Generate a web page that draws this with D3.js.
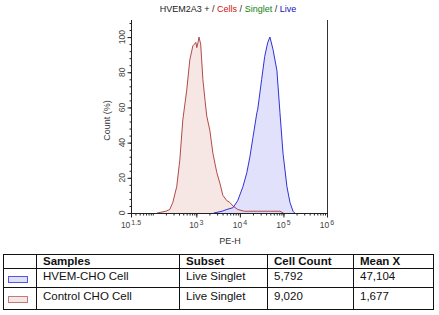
<!DOCTYPE html>
<html>
<head>
<meta charset="utf-8">
<script src="https://cdn.jsdelivr.net/npm/d3@7"></script>
<style>
  body { margin: 0; background: #fff; }
  svg { display: block; font-family: "Liberation Sans", Arial, sans-serif; }
</style>
</head>
<body>
<script>
// histogram data: x given as log10(PE-H), y as Count (%)
const redLog = [2.10, 2.30, 2.39, 2.46, 2.55, 2.62, 2.69, 2.78, 2.85, 2.92, 2.96, 2.99, 3.01, 3.04, 3.06, 3.10, 3.15, 3.20, 3.24, 3.31, 3.38, 3.47, 3.54, 3.61, 3.70, 3.77, 3.84, 3.95, 4.10, 4.40, 4.70, 4.92, 5.00];
const redCount = [0, 1, 2, 6, 15, 30, 53, 70, 87, 95, 96, 97, 94, 97, 100, 96, 76, 64, 55, 47, 34, 23, 17, 10, 7, 6, 4, 2, 1, 1, 1, 1, 0];
const blueLog = [3.40, 3.59, 3.70, 3.84, 3.95, 4.07, 4.16, 4.23, 4.30, 4.39, 4.41, 4.50, 4.57, 4.64, 4.69, 4.76, 4.85, 4.92, 4.99, 5.08, 5.15, 5.22, 5.26];
const blueCount = [0, 1, 2, 3, 7, 15, 23, 32, 43, 57, 59, 76, 89, 97, 100, 93, 81, 57, 34, 15, 6, 1, 0];

const xTickExp = [1.5, 3, 4, 5, 6];
const yTicks = [0, 20, 40, 60, 80, 100];

const tableHead = ["Samples", "Subset", "Cell Count", "Mean X"];
const samples = ["HVEM-CHO Cell", "Control CHO Cell"];
const subsets = ["Live Singlet", "Live Singlet"];
const cellCounts = ["5,792", "9,020"];
const meanX = ["47,104", "1,677"];

const W = 439, H = 315;
const svg = d3.select("body").append("svg").attr("width", W).attr("height", H);
svg.append("rect").attr("width", W).attr("height", H).attr("fill", "#fff");

// plot area
const pl = 131, pr = 327, pt = 20, pb = 213;
const x = d3.scaleLog().domain([Math.pow(10, 1.5), 1e6]).range([pl, pr]);
const y = d3.scaleLinear().domain([0, 109.7]).range([pb, pt]);

// title
const title = svg.append("text").attr("x", 228).attr("y", 12)
  .attr("text-anchor", "middle").attr("font-size", 9);
[["HVEM2A3 + / ", "#222"], ["Cells", "#d01010"], [" / ", "#222"], ["Singlet", "#108010"],
 [" / ", "#222"], ["Live", "#1010c0"]].forEach(([t, c]) => title.append("tspan").attr("fill", c).text(t));

// histograms
const area = d3.area().x(d => x(Math.pow(10, d[0]))).y0(y(0)).y1(d => y(d[1]));
const line = d3.line().x(d => x(Math.pow(10, d[0]))).y(d => y(d[1]));
const series = [
  { pts: d3.zip(redLog, redCount), fill: "#f4e2df", stroke: "#a83838" },
  { pts: d3.zip(blueLog, blueCount), fill: "#dcdcfa", stroke: "#1c1cd0" }
];
series.forEach(s => {
  svg.append("path").datum(s.pts).attr("d", area).attr("fill", s.fill).attr("fill-opacity", 0.85);
});
series.forEach(s => {
  svg.append("path").datum(s.pts).attr("d", line).attr("fill", "none")
    .attr("stroke", s.stroke).attr("stroke-width", 0.9);
});

// right border
svg.append("line").attr("x1", pr + 0.5).attr("x2", pr + 0.5).attr("y1", pt).attr("y2", pb)
  .attr("stroke", "#333");

// y axis
const yAxis = svg.append("g").attr("transform", `translate(${pl + 0.5},0)`)
  .call(d3.axisLeft(y).tickValues(yTicks).tickSize(4).tickFormat(""));
yAxis.append("g").call(d3.axisLeft(y).tickValues(d3.range(0, 109, 4)).tickSize(2).tickFormat(""));
yAxis.selectAll("path.domain").attr("d", `M0,${pt}V${pb + 0.5}`);
yAxis.selectAll("line").attr("stroke", "#222");
yAxis.selectAll("path").attr("stroke", "#222");
yTicks.forEach(v => {
  svg.append("text").attr("transform", `translate(125,${y(v)}) rotate(-90)`)
    .attr("text-anchor", "middle").attr("font-size", 8.5).attr("fill", "#444").text(v);
});
svg.append("text").attr("transform", `translate(110,${(pt + pb) / 2 + 4}) rotate(-90)`)
  .attr("text-anchor", "middle").attr("font-size", 9).attr("fill", "#333").text("Count (%)");

// x axis
const minorX = [];
for (let e = 1; e < 6; e++) for (let m = 1; m < 10; m++) {
  const v = m * Math.pow(10, e);
  if (v > Math.pow(10, 1.5) && v < 1e6) minorX.push(v);
}
const xAxis = svg.append("g").attr("transform", `translate(0,${pb + 0.5})`)
  .call(d3.axisBottom(x).tickValues(xTickExp.map(e => Math.pow(10, e))).tickSize(4).tickFormat(""));
xAxis.append("g").call(d3.axisBottom(x).tickValues(minorX).tickSize(2).tickFormat(""));
xAxis.selectAll("path.domain").attr("d", `M${pl},0H${pr + 1}`);
xAxis.selectAll("line").attr("stroke", "#222");
xAxis.selectAll("path").attr("stroke", "#222");
xTickExp.forEach(e => {
  const t = svg.append("text").attr("x", x(Math.pow(10, e))).attr("y", 228)
    .attr("text-anchor", "middle").attr("font-size", 8.5).attr("fill", "#444");
  t.append("tspan").text("10");
  t.append("tspan").attr("dy", -3).attr("dx", 1).attr("font-size", 7).text(e);
});
svg.append("text").attr("x", 230).attr("y", 244).attr("text-anchor", "middle")
  .attr("font-size", 9).attr("fill", "#333").text("PE-H");

// table
const colX = [3, 36, 179, 267, 353, 433];
const rowY = [254, 268, 287, 309];
const tbl = svg.append("g").attr("stroke", "#111").attr("stroke-width", 1);
rowY.forEach(v => tbl.append("line").attr("x1", colX[0]).attr("x2", colX[5]).attr("y1", v + 0.5).attr("y2", v + 0.5));
colX.forEach(v => tbl.append("line").attr("x1", v + 0.5).attr("x2", v + 0.5).attr("y1", rowY[0]).attr("y2", rowY[3] + 1));

tableHead.forEach((h, i) => {
  svg.append("text").attr("x", colX[i + 1] + 7).attr("y", 265).attr("font-size", 11.5)
    .attr("font-weight", "bold").attr("fill", "#111").text(h);
});
const swatch = [{ fill: "#dde0f6", stroke: "#5656e0" }, { fill: "#f3e6e3", stroke: "#c47a7a" }];
const baseY = [280, 300];
samples.forEach((s, i) => {
  const cells = [s, subsets[i], cellCounts[i], meanX[i]];
  cells.forEach((c, j) => {
    svg.append("text").attr("x", colX[j + 1] + 7).attr("y", baseY[i]).attr("font-size", 11.5)
      .attr("fill", "#111").text(c);
  });
  svg.append("rect").attr("x", 8.5).attr("y", baseY[i] - 3.5).attr("width", 19).attr("height", 6)
    .attr("fill", swatch[i].fill).attr("stroke", swatch[i].stroke);
});
</script>
</body>
</html>
